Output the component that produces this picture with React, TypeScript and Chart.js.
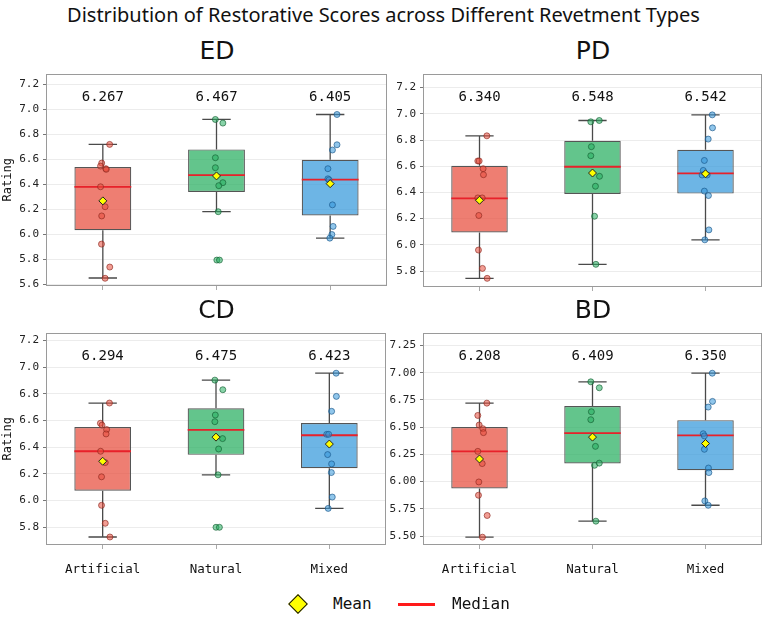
import React, { useEffect, useRef } from "react";
import { Chart, registerables } from "chart.js";

Chart.register(...registerables);

const MONO = '"DejaVu Sans Mono", "Liberation Mono", monospace';

// ---- categories & shared styling -------------------------------------------
const groups = ["Artificial", "Natural", "Mixed"];
const groupFill = ["rgba(231,76,60,0.72)", "rgba(39,174,96,0.72)", "rgba(52,152,219,0.72)"];
const groupDot = ["rgba(231,76,60,0.55)", "rgba(39,174,96,0.55)", "rgba(52,152,219,0.55)"];
const groupDotEdge = ["rgba(140,40,30,0.65)", "rgba(20,95,50,0.65)", "rgba(25,85,135,0.65)"];

// ---- ED ----------------------------------------------------------------------
const edArtificial = [6.72, 6.57, 6.546, 6.525, 6.52, 6.38, 6.22, 6.146, 5.92, 5.736, 5.646];
const edArtificialJitter = [0.06, -0.01, -0.02, 0.026, 0.03, -0.02, 0.02, -0.01, -0.012, 0.061, 0.02];
const edNatural = [6.92, 6.891, 6.613, 6.533, 6.413, 6.389, 6.18, 5.792, 5.792];
const edNaturalJitter = [-0.01, 0.056, -0.01, -0.01, 0.056, 0.02, 0.015, 0.003, 0.026];
const edMixed = [6.96, 6.717, 6.675, 6.525, 6.444, 6.436, 6.235, 6.062, 5.997, 5.968];
const edMixedJitter = [0.06, 0.06, 0.02, -0.02, -0.02, -0.01, 0.02, 0.026, 0.015, -0.003];
const edMean = [6.267, 6.467, 6.405];
const edMedian = [6.38, 6.474, 6.437];
const edQ1 = [6.032, 6.339, 6.149];
const edQ3 = [6.538, 6.68, 6.597];
const edLow = [5.648, 6.18, 5.968];
const edHigh = [6.72, 6.92, 6.96];
const edTicks = [5.6, 5.8, 6.0, 6.2, 6.4, 6.6, 6.8, 7.0, 7.2];
const edRange = [5.584, 7.288];

// ---- PD ----------------------------------------------------------------------
const pdArtificial = [6.832, 6.64, 6.64, 6.581, 6.535, 6.358, 6.358, 6.224, 5.96, 5.82, 5.744];
const pdArtificialJitter = [0.065, -0.015, -0.003, 0.032, 0.035, -0.015, 0.024, -0.006, -0.009, 0.026, 0.068];
const pdNatural = [6.939, 6.949, 6.749, 6.68, 6.523, 6.447, 6.218, 5.851];
const pdNaturalJitter = [-0.015, 0.06, -0.01, -0.015, 0.062, 0.026, 0.018, 0.03];
const pdMixed = [6.992, 6.893, 6.807, 6.644, 6.568, 6.533, 6.533, 6.41, 6.376, 6.114, 6.038];
const pdMixedJitter = [0.06, 0.062, 0.024, -0.01, -0.02, -0.03, 0.015, -0.01, 0.026, 0.03, -0.006];
const pdMean = [6.34, 6.548, 6.542];
const pdMedian = [6.355, 6.596, 6.546];
const pdQ1 = [6.094, 6.388, 6.391];
const pdQ3 = [6.604, 6.794, 6.726];
const pdLow = [5.744, 5.851, 6.038];
const pdHigh = [6.832, 6.949, 6.992];
const pdTicks = [5.8, 6.0, 6.2, 6.4, 6.6, 6.8, 7.0, 7.2];
const pdRange = [5.678, 7.307];

// ---- CD ----------------------------------------------------------------------
const cdArtificial = [6.731, 6.579, 6.565, 6.532, 6.499, 6.369, 6.284, 6.177, 5.963, 5.828, 5.725];
const cdArtificialJitter = [0.06, -0.02, -0.006, 0.035, 0.03, -0.018, 0.023, -0.01, -0.01, 0.023, 0.064];
const cdNatural = [6.903, 6.831, 6.641, 6.591, 6.464, 6.386, 6.192, 5.798, 5.798];
const cdNaturalJitter = [-0.01, 0.06, -0.006, -0.01, 0.058, 0.023, 0.018, 0.0, 0.03];
const cdMixed = [6.955, 6.781, 6.669, 6.496, 6.496, 6.344, 6.274, 6.209, 6.025, 5.94];
const cdMixedJitter = [0.06, 0.062, 0.02, -0.023, -0.006, -0.015, 0.02, 0.018, 0.026, -0.01];
const cdMean = [6.294, 6.475, 6.423];
const cdMedian = [6.369, 6.529, 6.489];
const cdQ1 = [6.072, 6.342, 6.242];
const cdQ3 = [6.551, 6.691, 6.581];
const cdLow = [5.725, 6.192, 5.94];
const cdHigh = [6.731, 6.903, 6.955];
const cdTicks = [5.8, 6.0, 6.2, 6.4, 6.6, 6.8, 7.0, 7.2];
const cdRange = [5.665, 7.26];

// ---- BD ----------------------------------------------------------------------
const bdArtificial = [6.721, 6.608, 6.52, 6.486, 6.45, 6.278, 6.166, 5.997, 5.875, 5.689, 5.49];
const bdArtificialJitter = [0.065, -0.015, -0.003, 0.03, 0.035, -0.015, 0.024, -0.006, -0.009, 0.068, 0.026];
const bdNatural = [6.917, 6.862, 6.642, 6.569, 6.324, 6.15, 6.17, 5.637];
const bdNaturalJitter = [-0.015, 0.06, -0.01, -0.015, 0.026, 0.018, 0.06, 0.03];
const bdMixed = [6.996, 6.737, 6.685, 6.44, 6.42, 6.297, 6.125, 6.083, 5.823, 5.783];
const bdMixedJitter = [0.06, 0.062, 0.024, -0.02, -0.01, -0.01, 0.026, 0.03, -0.006, 0.024];
const bdMean = [6.208, 6.409, 6.35];
const bdMedian = [6.278, 6.446, 6.425];
const bdQ1 = [5.937, 6.166, 6.104];
const bdQ3 = [6.501, 6.694, 6.565];
const bdLow = [5.49, 5.637, 5.783];
const bdHigh = [6.721, 6.917, 6.996];
const bdTicks = [5.5, 5.75, 6.0, 6.25, 6.5, 6.75, 7.0, 7.25];
const bdRange = [5.418, 7.369];

type PanelProps = {
  title: string;
  values: number[][];
  jitter: number[][];
  mean: number[];
  median: number[];
  q1: number[];
  q3: number[];
  low: number[];
  high: number[];
  ticks: number[];
  range: number[];
  decimals: number;
  showXLabels: boolean;
  showYTitle: boolean;
  left: number;
  top: number;
  width: number;
  height: number;
};

const Y_AXIS_W = 46;
const PAD_TOP = 10;
const PAD_RIGHT = 4;

function BoxPanel(p: PanelProps) {
  const ref = useRef<HTMLCanvasElement | null>(null);

  useEffect(() => {
    if (!ref.current) return;
    const xAxisH = p.showXLabels ? 40 : 20;
    const capHalf = 0.125;
    const boxHalf = 0.25;

    const whiskers: any[] = [];
    const medians: any[] = [];
    groups.forEach((_, i) => {
      whiskers.push({ x: i, y: p.q3[i] }, { x: i, y: p.high[i] }, { x: i, y: null });
      whiskers.push({ x: i, y: p.q1[i] }, { x: i, y: p.low[i] }, { x: i, y: null });
      whiskers.push({ x: i - capHalf, y: p.high[i] }, { x: i + capHalf, y: p.high[i] }, { x: i, y: null });
      whiskers.push({ x: i - capHalf, y: p.low[i] }, { x: i + capHalf, y: p.low[i] }, { x: i, y: null });
      medians.push({ x: i - boxHalf, y: p.median[i] }, { x: i + boxHalf, y: p.median[i] }, { x: i, y: null });
    });

    const pointSets = groups.map((g, i) => ({
      type: "scatter" as const,
      label: g,
      order: 2,
      data: p.values[i].map((v, k) => ({ x: i + p.jitter[i][k], y: v })),
      pointRadius: 3,
      pointBackgroundColor: groupDot[i],
      pointBorderColor: groupDotEdge[i],
      pointBorderWidth: 1,
      showLine: false,
    }));

    const decorations = {
      id: "panelDecorations",
      afterDatasetsDraw(chart: any) {
        const { ctx, chartArea } = chart;
        const xs = chart.scales.x;
        ctx.save();
        ctx.strokeStyle = "#9a9a9a";
        ctx.lineWidth = 1;
        ctx.strokeRect(
          Math.round(chartArea.left) + 0.5,
          Math.round(chartArea.top) + 0.5,
          Math.round(chartArea.right - chartArea.left) - 1,
          Math.round(chartArea.bottom - chartArea.top) - 1
        );
        ctx.fillStyle = "#111";
        ctx.font = `14px ${MONO}`;
        ctx.textAlign = "center";
        ctx.textBaseline = "middle";
        p.mean.forEach((m, i) => {
          ctx.fillText(m.toFixed(3), xs.getPixelForValue(i), chartArea.top + 24);
        });
        ctx.restore();
      },
    };

    const chart = new Chart(ref.current, {
      type: "bar",
      data: {
        datasets: [
          {
            type: "line",
            label: "whiskers",
            order: 5,
            data: whiskers,
            borderColor: "#4a4a4a",
            borderWidth: 1.3,
            pointRadius: 0,
            spanGaps: false,
          },
          {
            type: "bar",
            label: "box",
            order: 4,
            data: groups.map((_, i) => ({ x: i, y: [p.q1[i], p.q3[i]] })),
            backgroundColor: groupFill,
            borderColor: "#555",
            borderWidth: 1.2,
            borderSkipped: false,
            barPercentage: 0.5,
            categoryPercentage: 1,
          },
          {
            type: "line",
            label: "median",
            order: 3,
            data: medians,
            borderColor: "#e8212a",
            borderWidth: 1.8,
            pointRadius: 0,
            spanGaps: false,
          },
          ...pointSets,
          {
            type: "scatter",
            label: "mean",
            order: 1,
            data: groups.map((_, i) => ({ x: i, y: p.mean[i] })),
            pointStyle: "rectRot",
            pointRadius: 4,
            pointBackgroundColor: "#ffff00",
            pointBorderColor: "#222",
            pointBorderWidth: 1,
            showLine: false,
          },
        ] as any,
      },
      options: {
        animation: false,
        responsive: false,
        events: [],
        layout: { padding: { top: PAD_TOP, right: PAD_RIGHT, left: 0, bottom: 0 } },
        plugins: {
          legend: { display: false },
          tooltip: { enabled: false },
          title: { display: false },
        },
        scales: {
          x: {
            type: "linear",
            min: -0.5,
            max: 2.5,
            offset: false,
            afterBuildTicks: (s: any) => {
              s.ticks = groups.map((_, i) => ({ value: i }));
            },
            afterFit: (s: any) => {
              s.height = xAxisH;
            },
            ticks: {
              autoSkip: false,
              maxRotation: 0,
              padding: 13,
              color: "#111",
              font: { family: MONO, size: 12.5 },
              callback: (v: any) => (p.showXLabels ? groups[Math.round(Number(v))] : ""),
            },
            grid: {
              offset: false,
              drawOnChartArea: false,
              drawTicks: true,
              tickLength: 4,
              tickColor: "#aaa",
            },
            border: { display: false },
          },
          y: {
            type: "linear",
            min: p.range[0],
            max: p.range[1],
            afterBuildTicks: (s: any) => {
              s.ticks = p.ticks.map((v) => ({ value: v }));
            },
            afterFit: (s: any) => {
              s.width = Y_AXIS_W;
            },
            ticks: {
              padding: 4,
              color: "#222",
              font: { family: MONO, size: 11 },
              callback: (v: any) => Number(v).toFixed(p.decimals),
            },
            grid: {
              color: "#ececec",
              lineWidth: 1,
              drawTicks: true,
              tickLength: 3,
              tickColor: "#777",
            },
            border: { display: false },
            title: {
              display: p.showYTitle,
              text: "Rating",
              color: "#111",
              font: { family: MONO, size: 12 },
              padding: { top: 1, bottom: 0 },
            },
          },
        },
      },
      plugins: [decorations],
    } as any);

    return () => chart.destroy();
  }, []);

  const areaLeft = p.left + Y_AXIS_W;
  const areaRight = p.left + p.width - PAD_RIGHT;
  const centerX = (areaLeft + areaRight) / 2;
  const areaTop = p.top + PAD_TOP;

  return (
    <>
      <div
        style={{
          position: "absolute",
          left: centerX - 60,
          width: 120,
          top: areaTop - 36,
          height: 28,
          lineHeight: "28px",
          textAlign: "center",
          fontFamily: '"DejaVu Sans", sans-serif',
          fontSize: 25,
          color: "#111",
        }}
      >
        {p.title}
      </div>
      <canvas
        ref={ref}
        width={p.width}
        height={p.height}
        style={{ position: "absolute", left: p.left, top: p.top, width: p.width, height: p.height }}
      />
    </>
  );
}

export default function App() {
  return (
    <div
      style={{
        position: "absolute",
        left: 0,
        top: 0,
        width: 767,
        height: 643,
        background: "#fff",
        overflow: "hidden",
      }}
    >
      <div
        style={{
          position: "absolute",
          left: 0,
          top: 1,
          width: 767,
          textAlign: "center",
          fontFamily: '"Noto Sans", sans-serif',
          fontSize: 20,
          lineHeight: "28px",
          color: "#111",
        }}
      >
        Distribution of Restorative Scores across Different Revetment Types
      </div>

      <BoxPanel
        title="ED"
        values={[edArtificial, edNatural, edMixed]}
        jitter={[edArtificialJitter, edNaturalJitter, edMixedJitter]}
        mean={edMean}
        median={edMedian}
        q1={edQ1}
        q3={edQ3}
        low={edLow}
        high={edHigh}
        ticks={edTicks}
        range={edRange}
        decimals={1}
        showXLabels={false}
        showYTitle={true}
        left={0}
        top={63}
        width={392}
        height={243}
      />
      <BoxPanel
        title="PD"
        values={[pdArtificial, pdNatural, pdMixed]}
        jitter={[pdArtificialJitter, pdNaturalJitter, pdMixedJitter]}
        mean={pdMean}
        median={pdMedian}
        q1={pdQ1}
        q3={pdQ3}
        low={pdLow}
        high={pdHigh}
        ticks={pdTicks}
        range={pdRange}
        decimals={1}
        showXLabels={false}
        showYTitle={false}
        left={377}
        top={63}
        width={390}
        height={244}
      />
      <BoxPanel
        title="CD"
        values={[cdArtificial, cdNatural, cdMixed]}
        jitter={[cdArtificialJitter, cdNaturalJitter, cdMixedJitter]}
        mean={cdMean}
        median={cdMedian}
        q1={cdQ1}
        q3={cdQ3}
        low={cdLow}
        high={cdHigh}
        ticks={cdTicks}
        range={cdRange}
        decimals={1}
        showXLabels={true}
        showYTitle={true}
        left={0}
        top={322}
        width={391}
        height={263}
      />
      <BoxPanel
        title="BD"
        values={[bdArtificial, bdNatural, bdMixed]}
        jitter={[bdArtificialJitter, bdNaturalJitter, bdMixedJitter]}
        mean={bdMean}
        median={bdMedian}
        q1={bdQ1}
        q3={bdQ3}
        low={bdLow}
        high={bdHigh}
        ticks={bdTicks}
        range={bdRange}
        decimals={2}
        showXLabels={true}
        showYTitle={false}
        left={377}
        top={322}
        width={390}
        height={263}
      />

      {/* legend */}
      <div
        style={{
          position: "absolute",
          left: 291,
          top: 597,
          width: 14,
          height: 14,
          boxSizing: "border-box",
          background: "#ffff00",
          border: "1.5px solid #111",
          transform: "rotate(45deg)",
        }}
      />
      <div
        style={{
          position: "absolute",
          left: 333,
          top: 592,
          lineHeight: "24px",
          fontFamily: MONO,
          fontSize: 16,
          color: "#111",
        }}
      >
        Mean
      </div>
      <div
        style={{
          position: "absolute",
          left: 398,
          top: 603,
          width: 37,
          height: 3,
          background: "#ff1a1a",
        }}
      />
      <div
        style={{
          position: "absolute",
          left: 452,
          top: 592,
          lineHeight: "24px",
          fontFamily: MONO,
          fontSize: 16,
          color: "#111",
        }}
      >
        Median
      </div>
    </div>
  );
}
